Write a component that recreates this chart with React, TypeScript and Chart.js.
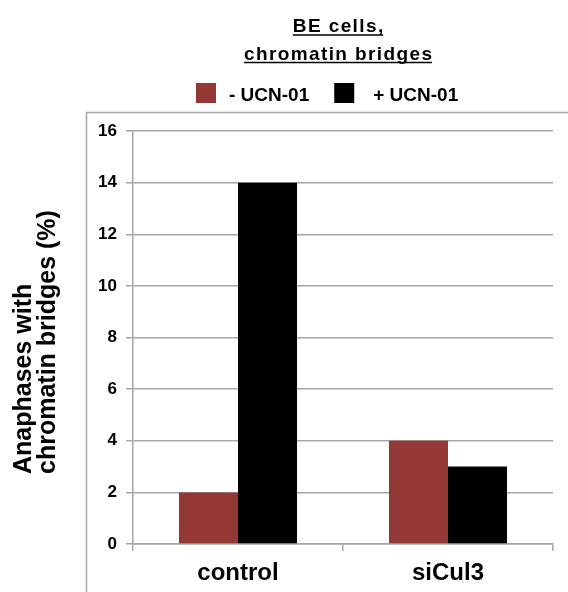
import React, { useEffect, useRef } from "react";
import { Chart, registerables } from "chart.js";

Chart.register(...registerables);

const categories = ["control", "siCul3"];
const seriesLabels = ["- UCN-01", "+ UCN-01"];
const minusUCN = [2, 4];
const plusUCN = [14, 3];
const seriesColors = ["#953735", "#000000"];
const yMin = 0;
const yMax = 16;
const yStep = 2;
const titleLines = ["BE cells,", "chromatin bridges"];
const yTitleLines = ["Anaphases with", "chromatin bridges (%)"];

const FONT = "'Liberation Sans', Arial, Helvetica, sans-serif";
const GRID = "#a6a6a6";

const decorPlugin = {
  id: "decor",
  beforeDraw(chart: any) {
    const ctx = chart.ctx;
    ctx.save();
    ctx.strokeStyle = GRID;
    ctx.lineWidth = 1.5;
    ctx.beginPath();
    ctx.moveTo(86.5, 600);
    ctx.lineTo(86.5, 112.5);
    ctx.lineTo(600, 112.5);
    ctx.stroke();
    ctx.restore();
  },
  afterDraw(chart: any) {
    const ctx = chart.ctx;
    ctx.save();
    // Title with underline
    ctx.fillStyle = "#000";
    ctx.strokeStyle = "#000";
    ctx.font = `bold 19px ${FONT}`;
    const ls = 1.4;
    (ctx as any).letterSpacing = `${ls}px`;
    ctx.textAlign = "left";
    ctx.textBaseline = "alphabetic";
    const cx = 338;
    const baselines = [32, 59.5];
    titleLines.forEach((t, i) => {
      const w = ctx.measureText(t).width;
      const x0 = cx - (w - ls) / 2;
      ctx.fillText(t, x0, baselines[i]);
      ctx.lineWidth = 1.5;
      ctx.beginPath();
      ctx.moveTo(x0, baselines[i] + 3);
      ctx.lineTo(x0 + w - ls, baselines[i] + 3);
      ctx.stroke();
    });
    (ctx as any).letterSpacing = "0px";

    // Legend
    ctx.font = `bold 19px ${FONT}`;
    let x = 196;
    chart.data.datasets.forEach((ds: any, i: number) => {
      const gap = i === 0 ? 33 : 39;
      ctx.fillStyle = ds.backgroundColor;
      ctx.fillRect(x, 83, 20, 20);
      ctx.fillStyle = "#000";
      ctx.fillText(ds.label, x + gap, 101);
      x = x + gap + ctx.measureText(ds.label).width + 25;
    });

    // Y axis title (rotated, start aligned)
    ctx.font = `bold 25px ${FONT}`;
    ctx.translate(31, 474);
    ctx.rotate(-Math.PI / 2);
    ctx.textAlign = "left";
    yTitleLines.forEach((t, i) => {
      ctx.fillText(t, 0, i * 24);
    });
    ctx.restore();
  },
};

export default function App() {
  const ref = useRef<HTMLCanvasElement | null>(null);
  useEffect(() => {
    if (!ref.current) return;
    const chart = new Chart(ref.current, {
      type: "bar",
      data: {
        labels: categories,
        datasets: [
          {
            label: seriesLabels[0],
            data: minusUCN,
            backgroundColor: seriesColors[0],
            categoryPercentage: 0.562,
            barPercentage: 1,
          },
          {
            label: seriesLabels[1],
            data: plusUCN,
            backgroundColor: seriesColors[1],
            categoryPercentage: 0.562,
            barPercentage: 1,
          },
        ],
      },
      options: {
        responsive: false,
        animation: false,
        layout: { padding: { top: 131, left: 0, right: 15, bottom: 0 } },
        plugins: {
          legend: { display: false },
          title: { display: false },
          tooltip: { enabled: false },
        },
        scales: {
          x: {
            afterFit: (s: any) => {
              s.height = 48;
            },
            grid: {
              display: true,
              drawOnChartArea: false,
              drawTicks: true,
              tickLength: 7,
              offset: true,
              color: GRID,
              lineWidth: 1.5,
            },
            border: { display: true, color: GRID, width: 1.5 },
            ticks: {
              color: "#000",
              padding: 8,
              font: { family: FONT, size: 24, weight: "bold" },
            },
          },
          y: {
            min: yMin,
            max: yMax,
            afterFit: (s: any) => {
              s.width = 133;
            },
            grid: {
              color: GRID,
              lineWidth: 1.5,
              drawTicks: true,
              tickLength: 7,
            },
            border: { display: true, color: GRID, width: 1.5 },
            ticks: {
              stepSize: yStep,
              color: "#000",
              padding: 9,
              font: { family: FONT, size: 17, weight: "bold" },
            },
          },
        },
      },
      plugins: [decorPlugin],
    });
    return () => chart.destroy();
  }, []);
  return (
    <div style={{ position: "absolute", left: 0, top: 0, width: 568, height: 592, background: "#fff" }}>
      <canvas ref={ref} width={568} height={592} style={{ display: "block" }} />
    </div>
  );
}
